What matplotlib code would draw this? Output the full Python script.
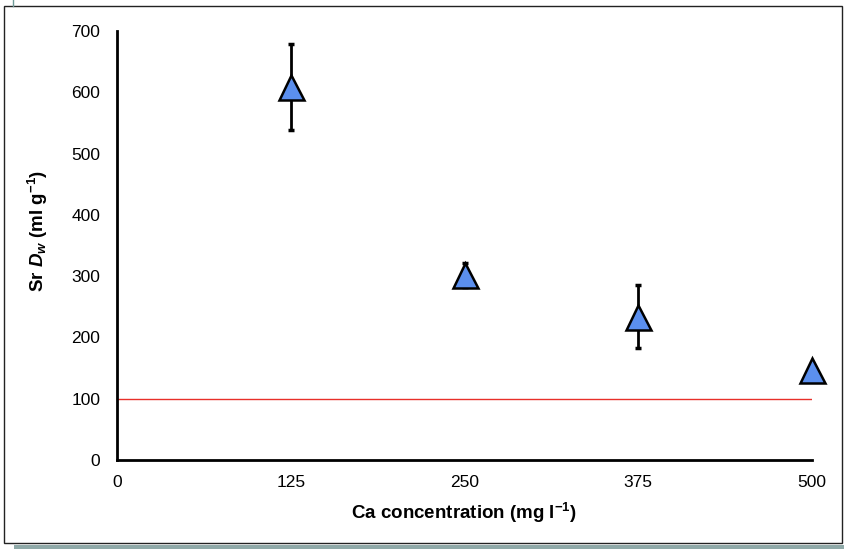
import matplotlib.pyplot as plt
from matplotlib.patches import Rectangle
from matplotlib.lines import Line2D

plt.rcParams['font.family'] = ['Liberation Sans', 'DejaVu Sans']
plt.rcParams['mathtext.fontset'] = 'custom'
plt.rcParams['mathtext.rm'] = 'Liberation Sans:bold'
plt.rcParams['mathtext.it'] = 'Liberation Sans:bold:italic'
plt.rcParams['mathtext.bf'] = 'Liberation Sans:bold'

# data
ca_conc = [125, 250, 375, 500]
sr_dw = [608, 302, 234, 147]
sr_err = [70, 20, 52, 0]
threshold = 100
x_ticks = [0, 125, 250, 375, 500]
y_ticks = [0, 100, 200, 300, 400, 500, 600, 700]

fig = plt.figure(figsize=(8.44, 5.49), dpi=100)
ax = fig.add_axes([117 / 844, 89 / 549, 695 / 844, 429 / 549])

# red reference line
ax.plot([0, 500], [threshold, threshold], color='#E8302A', lw=1.0, zorder=1)

# error bars then triangles on top
ax.errorbar(ca_conc, sr_dw, yerr=sr_err, fmt='none', ecolor='black',
            elinewidth=2.0, capsize=2.3, capthick=2.5, zorder=2)
ax.plot(ca_conc, sr_dw, linestyle='none', marker='^', markersize=18,
        markerfacecolor='#5B8FEE', markeredgecolor='black',
        markeredgewidth=1.8, zorder=3, clip_on=False)

ax.set_xlim(0, 500)
ax.set_ylim(0, 700)
ax.set_xticks(x_ticks)
ax.set_yticks(y_ticks)
ax.tick_params(length=0, labelsize=12.5, pad=11)
ax.tick_params(axis='y', pad=12)

for s in ['top', 'right']:
    ax.spines[s].set_visible(False)
for s in ['left', 'bottom']:
    ax.spines[s].set_linewidth(2.0)
    ax.spines[s].set_color('black')

ax.set_xlabel('Ca concentration (mg l$^{-1}$)', fontsize=13.5, fontweight='bold')
ax.set_ylabel('Sr $D_w$ (ml g$^{-1}$)', fontsize=13.5, fontweight='bold')
ax.xaxis.set_label_coords(0.5, -0.095)
ax.yaxis.set_label_coords(-0.096, 0.535)

# chart area border and the bits of page around it
fig.patches.append(Rectangle((4 / 844, 6 / 549), 838 / 844, 537 / 549,
                             transform=fig.transFigure, fill=False,
                             edgecolor='#222222', lw=1.0))
fig.patches.append(Rectangle((14 / 844, 0), 830 / 844, 4 / 549,
                             transform=fig.transFigure, color='#8FA9A8', lw=0))
fig.lines.append(Line2D([13 / 844, 13 / 844], [1 - 6 / 549, 1],
                        transform=fig.transFigure, color='#6F9A98', lw=1))

fig.savefig('out.png', dpi=100)
